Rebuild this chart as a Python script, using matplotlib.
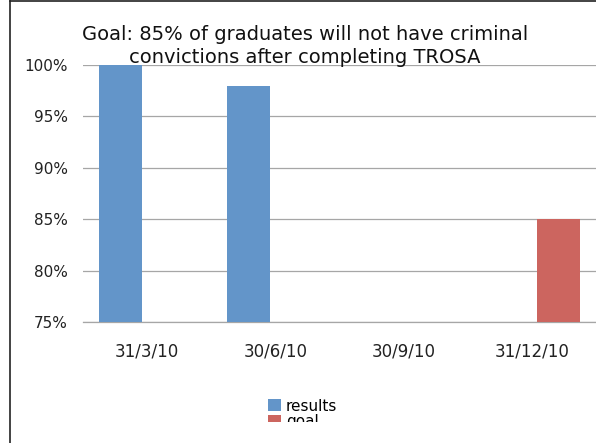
import numpy as np
import matplotlib
matplotlib.use('Agg')
import matplotlib.pyplot as plt
from matplotlib.patches import Rectangle

# data
dates = ['31/3/10', '30/6/10', '30/9/10', '31/12/10']
results = [100, 98, np.nan, np.nan]
goal = [np.nan, np.nan, np.nan, 85]
yticks = [75, 80, 85, 90, 95, 100]

title = 'Goal: 85% of graduates will not have criminal\nconvictions after completing TROSA'

W, H = 596, 443
fig = plt.figure(figsize=(W / 100, H / 100), dpi=100)

# axes placed by pixel: x 83..596, y 65..322
ax = fig.add_axes([83 / W, 1 - 322 / H, (596 - 83) / W, (322 - 65) / H])

x = np.arange(len(dates))
bw = 0.335
ax.bar(x - 0.207, results, bw, color='#6395C9', label='results', zorder=3)
ax.bar(x + 0.206, goal, bw, color='#CC655F', label='goal', zorder=3)

ax.set_xlim(-0.5, len(dates) - 0.5)
ax.set_ylim(75, 100)
ax.set_yticks(yticks)
ax.set_yticklabels(['%d%%' % v for v in yticks], fontsize=11)
ax.set_xticks(x)
ax.set_xticklabels(dates, fontsize=12)
ax.tick_params(axis='y', length=0, pad=11, colors='#222222')
ax.tick_params(axis='x', length=0, pad=15, colors='#222222')

ax.grid(axis='y', color='#a6a6a6', linewidth=0.9, zorder=1)
ax.set_axisbelow(True)
for s in ['left', 'right', 'top']:
    ax.spines[s].set_visible(False)
ax.spines['bottom'].set_color('#a6a6a6')
ax.spines['bottom'].set_linewidth(0.9)

fig.text(305 / W, 1 - 46 / H, title, ha='center', va='center', fontsize=14,
         linespacing=1.3, color='#111111')

leg = fig.legend(loc='upper left', bbox_to_anchor=(260 / W, 1 - 391 / H),
                 frameon=False, fontsize=11, borderpad=0, labelspacing=0.05,
                 handlelength=0.85, handleheight=0.85, handletextpad=0.35)

# legend is cut off at the bottom in the original
fig.patches.append(Rectangle((250 / W, 0), 120 / W, 1 - 422 / H,
                             transform=fig.transFigure, facecolor='white',
                             edgecolor='none', zorder=10))

# chart border (left and top visible)
fig.add_artist(plt.Line2D([9.5 / W, 9.5 / W], [0, 1 - 0.5 / H], transform=fig.transFigure,
                          color='#222222', linewidth=1.2))
fig.add_artist(plt.Line2D([9.5 / W, 1], [1 - 0.5 / H, 1 - 0.5 / H], transform=fig.transFigure,
                          color='#222222', linewidth=1.2))

fig.savefig('out.png', dpi=100)
